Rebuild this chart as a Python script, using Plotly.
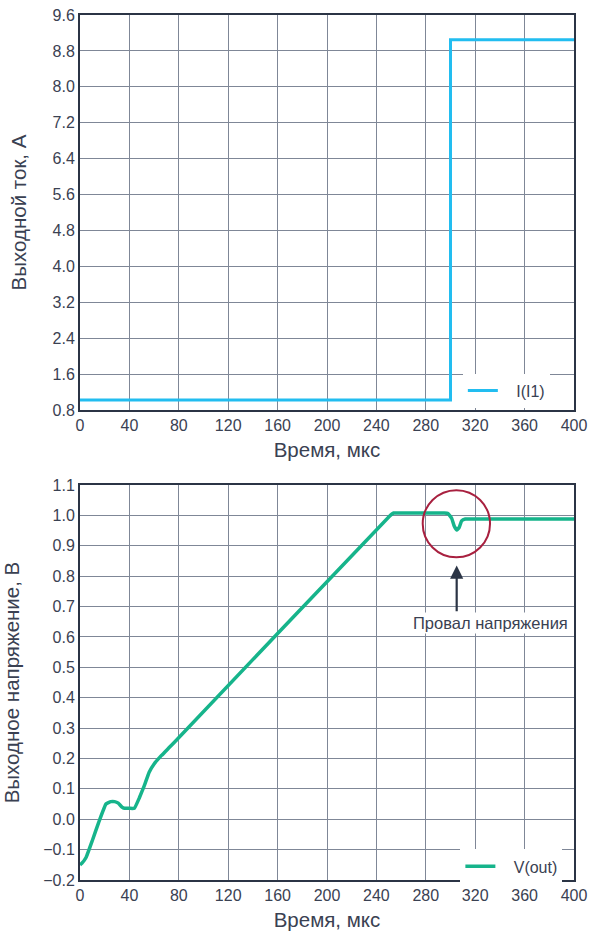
import plotly.graph_objects as go
from plotly.subplots import make_subplots

# Top chart: output current
t_i = [0, 300, 300, 400]
i_out = [1.02, 1.02, 9.05, 9.05]

# Bottom chart: output voltage
t_v = [0, 1.5, 5, 10, 15, 21, 25, 28, 31, 34, 36, 40, 44, 48, 52, 56, 60, 66, 72, 78,
       250, 254, 258, 295, 298, 301, 303, 305, 307, 309, 312, 316, 400]
v_out = [-0.15, -0.145, -0.125, -0.07, -0.012, 0.05, 0.058, 0.058, 0.053, 0.04, 0.036,
         0.036, 0.036, 0.07, 0.11, 0.155, 0.182, 0.21, 0.235, 0.26,
         0.995, 1.008, 1.008, 1.008, 1.006, 0.99, 0.965, 0.952, 0.96, 0.982, 0.988, 0.988, 0.988]

x_ticks = list(range(0, 401, 40))
y1_ticks = [0.8, 1.6, 2.4, 3.2, 4.0, 4.8, 5.6, 6.4, 7.2, 8.0, 8.8, 9.6]
y2_ticks = [-0.2, -0.1, 0.0, 0.1, 0.2, 0.3, 0.4, 0.5, 0.6, 0.7, 0.8, 0.9, 1.0, 1.1]

FONT = "Liberation Sans, Arial, sans-serif"
DARK = "#2b3445"
GRID = "#7f8797"
CYAN = "#22bdf0"
GREEN = "#16b48b"
TXT = "#3a4152"
PAD = "\u00a0\u00a0\u00a0"

fig = make_subplots(rows=2, cols=1, vertical_spacing=0.0868)

fig.add_trace(go.Scatter(x=t_i, y=i_out, mode="lines", name=PAD + "I(I1)",
                         line=dict(color=CYAN, width=3), legend="legend"), row=1, col=1)
fig.add_trace(go.Scatter(x=t_v, y=v_out, mode="lines", name=PAD + "V(out)",
                         line=dict(color=GREEN, width=3.5, shape="spline", smoothing=0.3),
                         legend="legend2"), row=2, col=1)

axis_common = dict(showline=True, linecolor=DARK, linewidth=2, mirror=True,
                   showgrid=True, gridcolor=GRID, gridwidth=1.3, zeroline=False,
                   ticks="", tickfont=dict(family=FONT, size=16, color=TXT),
                   automargin=False)

fig.update_xaxes(range=[0, 400], tickvals=x_ticks, **axis_common)
fig.update_xaxes(title=dict(text="Время, мкс", font=dict(family=FONT, size=20.5, color=TXT),
                            standoff=9))
fig.update_yaxes(range=[0.8, 9.6], tickvals=y1_ticks, ticktext=[f"{v:.1f}" for v in y1_ticks],
                 title=dict(text="Выходной ток, А", font=dict(family=FONT, size=20.5, color=TXT),
                            standoff=20),
                 row=1, col=1, **axis_common)
fig.update_yaxes(range=[-0.2, 1.1], tickvals=y2_ticks,
                 ticktext=[("−" if v < 0 else "") + f"{abs(v):.1f}" for v in y2_ticks],
                 title=dict(text="Выходное напряжение, В", font=dict(family=FONT, size=20.5, color=TXT),
                            standoff=20),
                 row=2, col=1, **axis_common)

# Circle highlighting the dip
fig.add_shape(type="circle", xref="x2", yref="y2", x0=277.5, x1=332, y0=0.862, y1=1.083,
              line=dict(color="#a8203f", width=2))

# Arrow and label
fig.add_annotation(x=305, y=0.835, ax=305, ay=0.68, xref="x2", yref="y2",
                   axref="x2", ayref="y2", showarrow=True, arrowhead=2, arrowsize=1.2,
                   arrowwidth=2.2, arrowcolor=DARK, text="")
fig.add_annotation(x=332, y=0.645, xref="x2", yref="y2", text="Провал напряжения",
                   showarrow=False, bgcolor="white",
                   font=dict(family=FONT, size=16.5, color=TXT))

legend_style = dict(bgcolor="white", borderwidth=0, xanchor="left", yanchor="bottom",
                    font=dict(family=FONT, size=16, color=TXT), itemwidth=30)
fig.update_layout(
    width=590, height=940,
    margin=dict(l=80, r=16, t=15, b=60, autoexpand=False),
    paper_bgcolor="white", plot_bgcolor="white",
    showlegend=True,
    legend=dict(x=0.775, y=0.546, **legend_style),
    legend2=dict(x=0.77, y=-0.004, **legend_style),
)

fig.write_html("out.html")
